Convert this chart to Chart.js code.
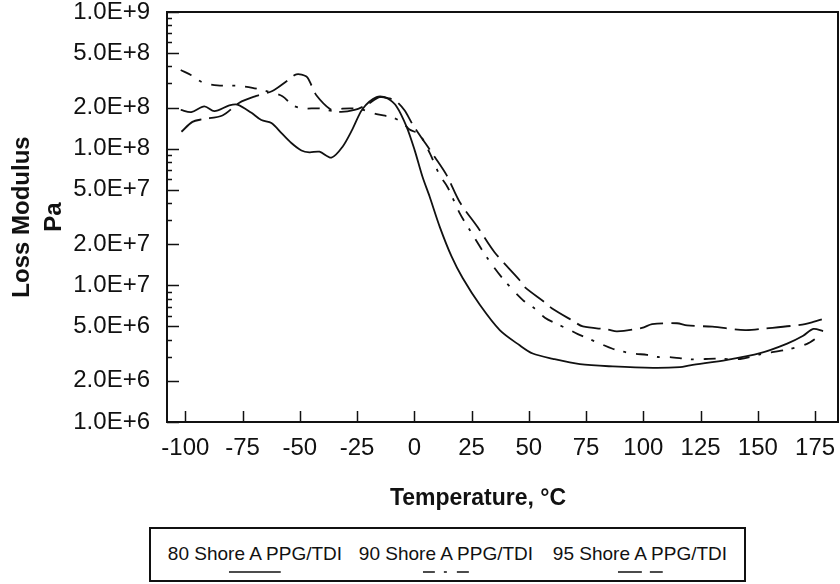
<!DOCTYPE html>
<html>
<head>
<meta charset="utf-8">
<script src="https://cdn.jsdelivr.net/npm/chart.js@4/dist/chart.umd.min.js"></script>
<style>
  html, body { margin: 0; padding: 0; background: #fff; }
  #wrap { position: relative; width: 840px; height: 584px; overflow: hidden; }
  #chart { position: absolute; left: 0; top: 0; }
  #xtitle { position: absolute; left: 478px; top: 484px; transform: translateX(-50%);
            font: bold 23px "Liberation Sans", Arial, sans-serif; color: #111; white-space: nowrap; }
  #legend { position: absolute; left: 149px; top: 527px; width: 593px; height: 51px;
            border: 2px solid #111; background: #fff; }
  .item { position: absolute; top: 0; transform: translateX(-50%); text-align: center; }
  .item span { display: block; font: 19px "Liberation Sans", Arial, sans-serif; color: #111;
               white-space: nowrap; margin-top: 14px; }
  .item svg { display: block; margin: 4px auto 0 auto; }
</style>
</head>
<body>
<div id="wrap">
  <canvas id="chart" width="840" height="584"></canvas>
  <div id="xtitle">Temperature, °C</div>
  <div id="legend"></div>
</div>
<script>
// ---------- data ----------
const seriesNames = ['80 Shore A PPG/TDI', '90 Shore A PPG/TDI', '95 Shore A PPG/TDI'];

// 80 Shore A (solid)
const temp80 = [-102, -97.4, -91.7, -87.3, -80.8, -77.3, -71.1, -66.8, -62.4, -58, -53.7, -49.3, -45.8, -41.4, -36.2,
  -31.4, -27, -22.6, -16.5, -11.7, -7.7, -3.4, 0.1, 3.6, 6.7, 11.1, 16.3, 21.1, 28.6, 37.3, 46, 51.7, 60.5, 72.3,
  86.7, 104.2, 116, 120.4, 136.6, 151, 162.8, 169.8, 174.2, 178.5];
const loss80 = [1.92e8, 1.85e8, 2.04e8, 1.88e8, 2.07e8, 2.10e8, 1.83e8, 1.62e8, 1.54e8, 1.30e8, 1.10e8, 9.7e7, 9.4e7, 9.5e7, 8.6e7,
  1.03e8, 1.39e8, 1.95e8, 2.38e8, 2.33e8, 2.03e8, 1.45e8, 9.8e7, 6.2e7, 4.45e7, 2.68e7, 1.62e7, 1.13e7, 7.2e6, 4.7e6, 3.64e6, 3.17e6, 2.90e6, 2.65e6,
  2.55e6, 2.49e6, 2.52e6, 2.60e6, 2.85e6, 3.19e6, 3.75e6, 4.28e6, 4.80e6, 4.63e6];

// 90 Shore A (dash-dot)
const temp90 = [-102, -97.4, -92.6, -86, -77.3, -70.7, -64.6, -57.6, -53.2, -48.8, -41.4, -35.7, -31.4, -23.9, -16.5,
  -9.5, -5.1, -2.1, 2.3, 6.7, 11.1, 14.6, 19.8, 24.2, 31.6, 38.6, 47.4, 52.6, 57, 62.2, 67, 71.4, 76.7, 81.9, 86.3,
  91.1, 96.3, 101.6, 106.4, 111.6, 121.7, 131.3, 142.2, 151, 162.8, 171.5, 176.3];
const loss90 = [3.76e8, 3.45e8, 3.06e8, 2.90e8, 2.89e8, 2.79e8, 2.64e8, 2.42e8, 2.08e8, 1.97e8, 1.97e8, 1.89e8, 1.96e8, 1.95e8, 1.79e8,
  1.69e8, 1.55e8, 1.38e8, 1.27e8, 9.3e7, 6.4e7, 5.2e7, 3.38e7, 2.54e7, 1.61e7, 1.12e7, 7.8e6, 6.75e6, 5.8e6, 5.22e6, 4.79e6, 4.40e6, 4.03e6, 3.70e6, 3.45e6,
  3.27e6, 3.16e6, 3.10e6, 2.99e6, 2.98e6, 2.87e6, 2.91e6, 2.89e6, 3.13e6, 3.39e6, 3.73e6, 4.19e6];

// 95 Shore A (long dash)
const temp95 = [-101.7, -96.9, -92.6, -83.8, -76.4, -69, -62, -55.8, -51.5, -47.1, -44.9, -42.7, -37, -32.7, -26.1,
  -20.9, -15.2, -10.8, -7.7, -4.2, -0.7, 8.9, 14.1, 19.8, 27.7, 35.1, 46, 48.2, 57, 60, 69.2, 73.6, 84.5, 88.5,
  99.4, 103.8, 114.7, 119.1, 130.1, 144.5, 153.6, 168.5, 174.2, 178.5];
const loss95 = [1.33e8, 1.57e8, 1.64e8, 1.75e8, 2.17e8, 2.43e8, 2.64e8, 3.11e8, 3.50e8, 3.37e8, 2.90e8, 2.45e8, 1.96e8, 1.86e8, 1.92e8,
  2.09e8, 2.38e8, 2.33e8, 2.21e8, 1.90e8, 1.50e8, 8.7e7, 6.4e7, 4.07e7, 2.66e7, 1.74e7, 1.09e7, 9.7e6, 7.5e6, 6.8e6, 5.5e6, 5.0e6, 4.75e6, 4.6e6,
  4.88e6, 5.2e6, 5.28e6, 5.09e6, 4.98e6, 4.70e6, 4.84e6, 5.14e6, 5.40e6, 5.67e6];

// axis ticks
const xTickValues = [-100, -75, -50, -25, 0, 25, 50, 75, 100, 125, 150, 175];
const yLabelValues = [1e6, 2e6, 5e6, 1e7, 2e7, 5e7, 1e8, 2e8, 5e8, 1e9];
const yAxisTitle = ['Loss Modulus', 'Pa'];

// ---------- helpers ----------
const FONT = '"Liberation Sans", Arial, sans-serif';
const INK = '#111';
const pts = (xs, ys) => xs.map((x, i) => ({ x: x, y: ys[i] }));

const yAllTicks = [];
for (let e = 6; e <= 8; e++) for (let m = 1; m <= 9; m++) yAllTicks.push(m * Math.pow(10, e));
yAllTicks.push(1e9);
const isLabelled = v => yLabelValues.some(l => Math.abs(l - v) / l < 1e-6);
const fmtE = v => {
  const e = Math.floor(Math.log10(v) + 1e-9);
  const m = v / Math.pow(10, e);
  return m.toFixed(1) + 'E+' + e;
};

// frame + inward tick marks
const framePlugin = {
  id: 'frame',
  beforeDatasetsDraw(chart) {
    const { ctx, chartArea: a, scales } = chart;
    ctx.save();
    ctx.strokeStyle = INK;
    ctx.lineWidth = 2;
    ctx.strokeRect(a.left, a.top, a.right - a.left, a.bottom - a.top);
    ctx.lineWidth = 1.5;
    ctx.beginPath();
    yAllTicks.forEach(v => {
      const y = Math.round(scales.y.getPixelForValue(v)) + 0.5;
      const len = isLabelled(v) ? 12 : 5;
      ctx.moveTo(a.left, y); ctx.lineTo(a.left + len, y);
    });
    xTickValues.forEach(v => {
      const x = Math.round(scales.x.getPixelForValue(v)) + 0.5;
      ctx.moveTo(x, a.bottom); ctx.lineTo(x, a.bottom - 11);
    });
    ctx.stroke();
    ctx.restore();
  }
};

const styles = [
  { dash: [] },
  { dash: [12, 9, 3, 10] },
  { dash: [24, 8] }
];

const chart = new Chart(document.getElementById('chart'), {
  type: 'line',
  data: {
    datasets: [
      { label: seriesNames[0], data: pts(temp80, loss80) },
      { label: seriesNames[1], data: pts(temp90, loss90) },
      { label: seriesNames[2], data: pts(temp95, loss95) }
    ].map((d, i) => Object.assign(d, {
      borderColor: INK, borderWidth: 1.8, borderDash: styles[i].dash,
      pointRadius: 0, tension: 0.3, fill: false
    }))
  },
  options: {
    responsive: false,
    animation: false,
    devicePixelRatio: 1,
    layout: { padding: { top: 12, right: 2, left: 0, bottom: 0 } },
    plugins: { legend: { display: false }, tooltip: { enabled: false } },
    scales: {
      x: {
        type: 'linear', min: -108, max: 185,
        afterBuildTicks: s => { s.ticks = xTickValues.map(v => ({ value: v })); },
        afterFit: s => { s.height = 162; s.paddingLeft = 0; s.paddingRight = 0; },
        grid: { display: false, drawTicks: false },
        border: { display: false },
        ticks: { color: INK, font: { family: FONT, size: 24 }, padding: 12, autoSkip: false, maxRotation: 0,
                 callback: v => String(v) }
      },
      y: {
        type: 'logarithmic', min: 1e6, max: 1e9,
        afterBuildTicks: s => { s.ticks = yAllTicks.map(v => ({ value: v })); },
        afterFit: s => { s.width = 167; s.paddingTop = 0; s.paddingBottom = 0; },
        grid: { display: false, drawTicks: false },
        border: { display: false },
        ticks: { color: INK, font: { family: FONT, size: 24 }, padding: 17, autoSkip: false,
                 callback: v => isLabelled(v) ? fmtE(v) : '' },
        title: { display: true, text: yAxisTitle, color: INK,
                 font: { family: FONT, size: 24, weight: 'bold', lineHeight: 1.35 },
                 padding: { top: 6, bottom: 0 } }
      }
    }
  },
  plugins: [framePlugin]
});

// ---------- legend box built from the datasets ----------
const legend = document.getElementById('legend');
const centers = [104, 295, 489];
const sampleW = [52, 47, 45];
chart.data.datasets.forEach((ds, i) => {
  const item = document.createElement('div');
  item.className = 'item';
  item.style.left = centers[i] + 'px';
  const span = document.createElement('span');
  span.textContent = ds.label;
  item.appendChild(span);
  const w = sampleW[i];
  const svgNS = 'http://www.w3.org/2000/svg';
  const svg = document.createElementNS(svgNS, 'svg');
  svg.setAttribute('width', w); svg.setAttribute('height', 6);
  const ln = document.createElementNS(svgNS, 'line');
  ln.setAttribute('x1', 0); ln.setAttribute('x2', w);
  ln.setAttribute('y1', 3); ln.setAttribute('y2', 3);
  ln.setAttribute('stroke', INK); ln.setAttribute('stroke-width', 1.6);
  if (ds.borderDash.length) ln.setAttribute('stroke-dasharray', ds.borderDash.join(' '));
  svg.appendChild(ln);
  item.appendChild(svg);
  legend.appendChild(item);
});
</script>
</body>
</html>
